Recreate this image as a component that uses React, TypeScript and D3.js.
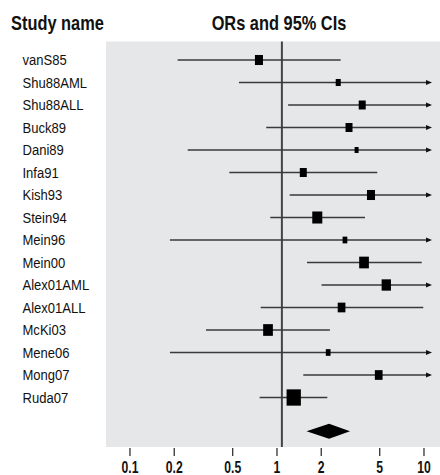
import React from "react";
import * as d3 from "d3";

const studies = ["vanS85","Shu88AML","Shu88ALL","Buck89","Dani89","Infa91","Kish93","Stein94","Mein96","Mein00","Alex01AML","Alex01ALL","McKi03","Mene06","Mong07","Ruda07"];
const oddsRatios = [0.754, 2.61, 3.80, 3.09, 3.48, 1.51, 4.36, 1.88, 2.90, 3.91, 5.54, 2.75, 0.869, 2.23, 4.92, 1.30];
const lowerCI = [0.211, 0.551, 1.19, 0.845, 0.247, 0.474, 1.22, 0.901, 0.187, 1.60, 2.01, 0.775, 0.329, 0.187, 1.51, 0.762];
const upperCI = [2.71, 14, 16, 15, 20, 4.81, 18, 3.97, 25, 9.65, 20, 9.89, 2.29, 30, 22, 2.20];
const weights = [6.1, 2.4, 4.6, 4.6, 1.5, 4.6, 6.1, 9.5, 2.1, 8.9, 8.2, 5.6, 8.9, 2.1, 5.6, 19.3];
const pooled = [1.59, 2.26, 3.14]; // lower, estimate, upper
const nullLine = 1.08;
const tickValues = [0.1, 0.2, 0.5, 1, 2, 5, 10];
const tickLabels = ["0.1", "0.2", "0.5", "1", "2", "5", "10"];

const W = 440, H = 475;
const plotLeft = 106, plotRight = 440, plotTop = 41.5, plotBottom = 447;
const FONT = "'Liberation Sans', Arial, sans-serif";

function CText({ x, y, sx, anchor, size, weight, children }: any) {
  return (
    <text transform={`translate(${x},${y}) scale(${sx},1)`} fontSize={size} fontWeight={weight || "normal"} fill="#111" textAnchor={anchor || "start"}>
      {children}
    </text>
  );
}

export default function App() {
  const x = d3.scaleLog().domain([0.0687, 12.85]).range([plotLeft, plotRight]);
  const y = d3.scaleLinear().domain([0, 16.5]).range([60, 431.25]);
  const size = d3.scaleSqrt().domain([0, d3.max(weights) as number]).range([0, 14.3]);
  const arrowTip = plotRight - 8;
  const d = pooled;
  const yd = y(16.5);
  const diamond = `M${x(d[0])},${yd} L${x(d[1])},${yd - 7.5} L${x(d[2])},${yd} L${x(d[1])},${yd + 7.5} Z`;
  return (
    <svg width={W} height={H} style={{ position: "absolute", left: 0, top: 0, background: "#fff" }} fontFamily={FONT}>
      <CText x={11} y={30} sx={0.82} size={20} weight="bold">Study name</CText>
      <CText x={279} y={30} sx={0.82} size={20} weight="bold" anchor="middle">ORs and 95% CIs</CText>
      <rect x={plotLeft} y={plotTop} width={plotRight - plotLeft} height={plotBottom - plotTop} fill="#e6e7e8" />
      <line x1={x(nullLine)} x2={x(nullLine)} y1={plotTop} y2={plotBottom} stroke="#444" strokeWidth={2} />
      {studies.map((s, i) => {
        const yy = y(i);
        const over = upperCI[i] > x.domain()[1] * 0.85;
        const xr = over ? arrowTip - 4 : x(upperCI[i]);
        const w = size(weights[i]);
        const h = w + 2;
        return (
          <g key={s}>
            <CText x={22.5} y={yy + 5.3} sx={0.87} size={15}>{s}</CText>
            <line x1={x(lowerCI[i])} x2={xr} y1={yy} y2={yy} stroke="#3a3a3a" strokeWidth={1.3} />
            {over && <path d={`M${arrowTip},${yy} L${arrowTip - 6},${yy - 2.5} L${arrowTip - 6},${yy + 2.5} Z`} fill="#111" />}
            <rect x={x(oddsRatios[i]) - w / 2} y={yy - h / 2} width={w} height={h} fill="#000" />
          </g>
        );
      })}
      <path d={diamond} fill="#000" />
      {tickValues.map((t, i) => (
        <g key={t}>
          <line x1={x(t)} x2={x(t)} y1={plotBottom + 1} y2={plotBottom + 9} stroke="#222" strokeWidth={1.2} />
          <CText x={x(t)} y={472.5} sx={0.76} size={16} weight="bold" anchor="middle">{tickLabels[i]}</CText>
        </g>
      ))}
    </svg>
  );
}
